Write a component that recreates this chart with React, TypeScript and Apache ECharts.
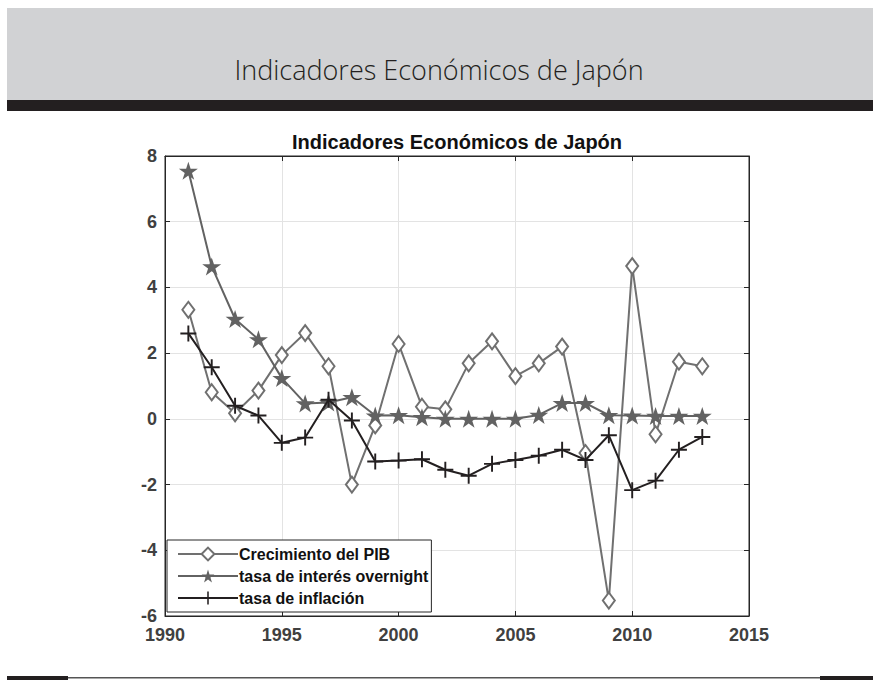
import React, { useEffect, useRef } from "react";
import * as echarts from "echarts";

const years = [1991,1992,1993,1994,1995,1996,1997,1998,1999,2000,2001,2002,2003,2004,2005,2006,2007,2008,2009,2010,2011,2012,2013];
const pib = [3.32,0.81,0.17,0.86,1.94,2.61,1.6,-2.0,-0.2,2.28,0.37,0.29,1.69,2.36,1.3,1.69,2.2,-1.04,-5.53,4.65,-0.47,1.74,1.6];
const interes = [7.55,4.64,3.04,2.42,1.24,0.47,0.5,0.66,0.1,0.11,0.05,0.0,0.0,0.0,0.0,0.12,0.48,0.48,0.11,0.1,0.09,0.09,0.09];
const inflacion = [2.6,1.57,0.4,0.1,-0.73,-0.57,0.58,-0.05,-1.3,-1.27,-1.23,-1.55,-1.73,-1.37,-1.25,-1.12,-0.94,-1.25,-0.5,-2.17,-1.88,-0.94,-0.55];
const seriesNames = ["Crecimiento del PIB", "tasa de interés overnight", "tasa de inflación"];
const headerTitle = "Indicadores Económicos de Japón";
const chartTitle = "Indicadores Económicos de Japón";

const STAR = "path://M0,-100 L22.45,-30.9 L95.1,-30.9 L36.3,11.8 L58.8,80.9 L0,38.2 L-58.8,80.9 L-36.3,11.8 L-95.1,-30.9 L-22.45,-30.9 Z";
const PLUS = "path://M-6,-50 L6,-50 L6,-6 L50,-6 L50,6 L6,6 L6,50 L-6,50 L-6,6 L-50,6 L-50,-6 L-6,-6 Z";

const FONT = "'Liberation Sans', Arial, Helvetica, sans-serif";

export default function App() {
  const ref = useRef<HTMLDivElement>(null);
  useEffect(() => {
    if (!ref.current) return;
    const chart = echarts.init(ref.current, null, { renderer: "svg" });
    const pts = (vals: number[]) => years.map((y, i) => [y, vals[i]]);
    const axisLbl = { fontFamily: FONT, fontWeight: "bold" as const, fontSize: 18, color: "#404040" };
    chart.setOption({
      animation: false,
      backgroundColor: "#ffffff",
      grid: { left: 165, right: 129, top: 156, bottom: 65, show: true, borderColor: "#262626", borderWidth: 1, backgroundColor: "transparent" },
      graphic: [
        { type: "rect", shape: { x: 7, y: 8, width: 866, height: 92 }, style: { fill: "#d1d2d4" }, z: -10 },
        { type: "rect", shape: { x: 7, y: 100, width: 866, height: 11 }, style: { fill: "#231f20" }, z: -10 },
        { type: "text", x: 439, y: 69, style: { text: headerTitle, fill: "#231f20", font: "300 27px 'Open Sans', Lato, sans-serif", textAlign: "center", textVerticalAlign: "middle" } },
        { type: "text", x: 457, y: 142, style: { text: chartTitle, fill: "#111111", font: "bold 20px " + FONT, textAlign: "center", textVerticalAlign: "middle" } },
        { type: "rect", shape: { x: 7, y: 677, width: 866, height: 1.5 }, style: { fill: "#555555" }, z: -10 },
        { type: "rect", shape: { x: 7, y: 676, width: 61, height: 4 }, style: { fill: "#231f20" }, z: -10 },
        { type: "rect", shape: { x: 820, y: 676, width: 53, height: 4 }, style: { fill: "#231f20" }, z: -10 },
      ],
      xAxis: [
        {
          type: "value", min: 1990, max: 2015, interval: 5, position: "bottom",
          axisLine: { show: true, onZero: false, lineStyle: { color: "#262626", width: 1 } },
          axisTick: { show: true, inside: true, length: 5, lineStyle: { color: "#262626" } },
          axisLabel: { ...axisLbl, margin: 10, formatter: (v: number) => String(v) },
          splitLine: { show: true, lineStyle: { color: "#e3e3e3", width: 1 } },
        },
        {
          type: "value", min: 1990, max: 2015, interval: 5, position: "top",
          axisLine: { show: true, onZero: false, lineStyle: { color: "#262626", width: 1 } },
          axisTick: { show: true, inside: true, length: 5, lineStyle: { color: "#262626" } },
          axisLabel: { show: false }, splitLine: { show: false },
        },
      ],
      yAxis: [
        {
          type: "value", min: -6, max: 8, interval: 2, position: "left",
          axisLine: { show: true, onZero: false, lineStyle: { color: "#262626", width: 1 } },
          axisTick: { show: true, inside: true, length: 5, lineStyle: { color: "#262626" } },
          axisLabel: { ...axisLbl, margin: 8 },
          splitLine: { show: true, lineStyle: { color: "#e3e3e3", width: 1 } },
        },
        {
          type: "value", min: -6, max: 8, interval: 2, position: "right",
          axisLine: { show: true, onZero: false, lineStyle: { color: "#262626", width: 1 } },
          axisTick: { show: true, inside: true, length: 5, lineStyle: { color: "#262626" } },
          axisLabel: { show: false }, splitLine: { show: false },
        },
      ],
      legend: {
        orient: "vertical", left: 167, top: 540,
        backgroundColor: "#ffffff", borderColor: "#262626", borderWidth: 1, borderRadius: 0,
        padding: [6, 3, 6, 10], itemGap: 6, itemWidth: 60, itemHeight: 16,
        textStyle: { fontFamily: FONT, fontWeight: "bold", fontSize: 16, color: "#111111", padding: [0, 0, 0, -4] },
        data: seriesNames,
      },
      series: [
        {
          name: seriesNames[0], type: "line", data: pts(pib), z: 3,
          symbol: "emptyDiamond", symbolSize: [12, 16],
          lineStyle: { color: "#707070", width: 2 },
          itemStyle: { color: "#707070", borderColor: "#707070", borderWidth: 2 },
        },
        {
          name: seriesNames[1], type: "line", data: pts(interes), z: 4,
          symbol: STAR, symbolSize: [19, 18],
          lineStyle: { color: "#626262", width: 2 },
          itemStyle: { color: "#626262" },
        },
        {
          name: seriesNames[2], type: "line", data: pts(inflacion), z: 5,
          symbol: PLUS, symbolSize: [16, 16],
          lineStyle: { color: "#231f20", width: 2 },
          itemStyle: { color: "#231f20" },
        },
      ],
    });
    return () => chart.dispose();
  }, []);
  return <div ref={ref} style={{ position: "absolute", left: 0, top: 0, width: 878, height: 681 }} />;
}
